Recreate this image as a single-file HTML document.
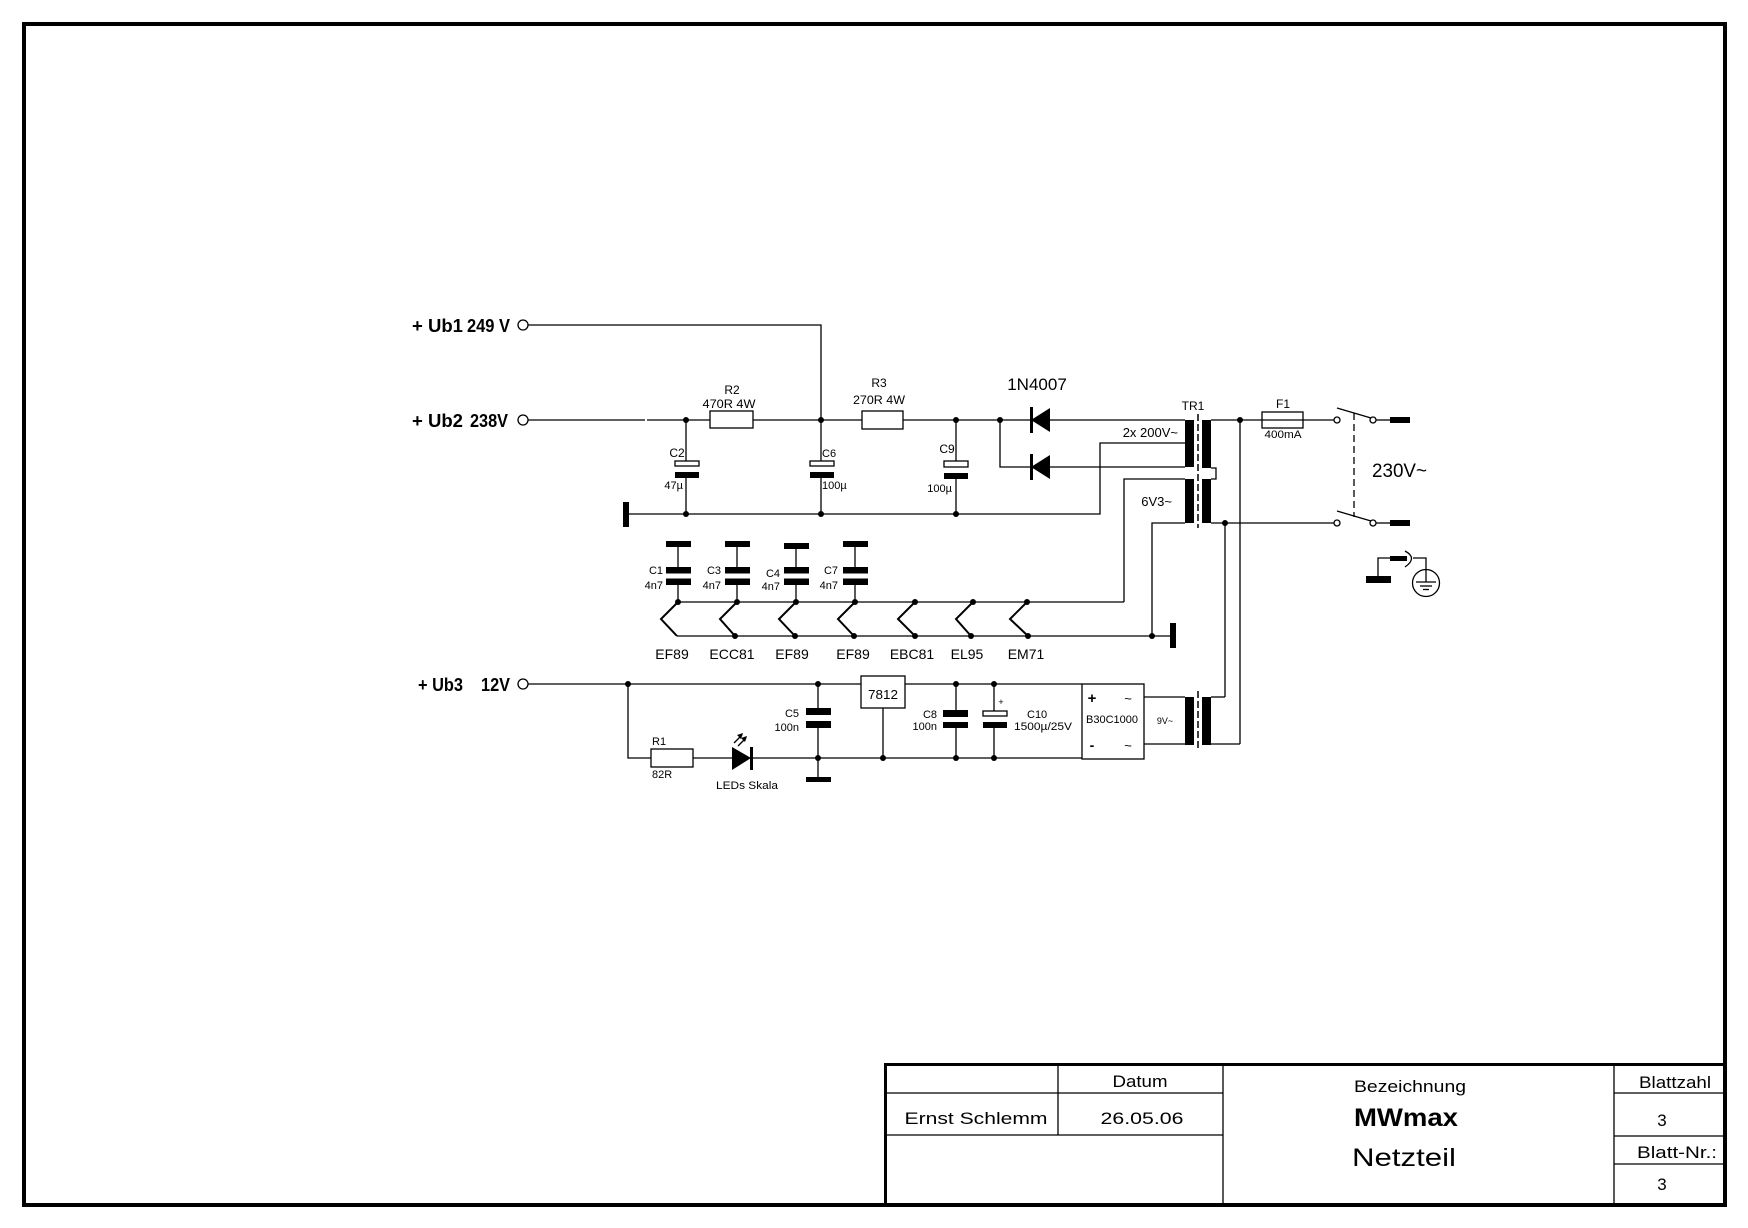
<!DOCTYPE html>
<html><head><meta charset="utf-8"><style>
html,body{margin:0;padding:0;background:#fff;}
svg{display:block;}
text{font-family:"Liberation Sans",Arial,sans-serif;fill:#000;}
</style></head><body>
<svg width="1748" height="1228" viewBox="0 0 1748 1228" xmlns="http://www.w3.org/2000/svg">
<rect x="0" y="0" width="1748" height="1228" fill="#fff"/>
<!-- outer border -->
<rect x="24" y="24" width="1701" height="1181" fill="none" stroke="#000" stroke-width="4"/>

<g stroke="#000" stroke-width="1.3" fill="none">
<!-- Ub1 -->
<circle cx="523" cy="325" r="5"/>
<polyline points="528,325 821,325 821,420"/>
<!-- Ub2 main -->
<circle cx="523" cy="420" r="5"/>
<line x1="528" y1="420" x2="645" y2="420"/>
<line x1="647" y1="420" x2="710" y2="420"/>
<rect x="710" y="411" width="43" height="17"/>
<line x1="753" y1="420" x2="862" y2="420"/>
<rect x="862" y="411" width="41" height="18"/>
<line x1="903" y1="420" x2="1031" y2="420"/>
<line x1="1050" y1="420" x2="1185" y2="420"/>
<!-- C2 C6 C9 -->
<line x1="686" y1="420" x2="686" y2="461"/>
<rect x="675" y="461" width="24" height="5"/>
<line x1="686" y1="478" x2="686" y2="514"/>
<line x1="821" y1="420" x2="821" y2="461"/>
<rect x="810" y="461" width="24" height="5"/>
<line x1="821" y1="478" x2="821" y2="514"/>
<line x1="956" y1="420" x2="956" y2="461"/>
<rect x="944" y="461" width="24" height="6"/>
<line x1="956" y1="479" x2="956" y2="514"/>
<!-- ground line & center tap -->
<polyline points="629,514 1100,514 1100,443 1185,443"/>
<!-- diode 2 -->
<polyline points="1000,420 1000,467 1031,467"/>
<line x1="1050" y1="467" x2="1185" y2="467"/>
<!-- 6V3 leads -->
<polyline points="1185,479 1124,479 1124,602"/>
<polyline points="1185,523 1152,523 1152,636"/>
<!-- right side -->
<line x1="1211" y1="420" x2="1262" y2="420"/>
<rect x="1262" y="412" width="41" height="16"/>
<line x1="1262" y1="420" x2="1334" y2="420"/>
<line x1="1240" y1="420" x2="1240" y2="744"/>
<line x1="1211" y1="744" x2="1240" y2="744"/>
<polyline points="1211,468 1216,468 1216,479 1211,479"/>
<line x1="1211" y1="523" x2="1334" y2="523"/>
<line x1="1225" y1="523" x2="1225" y2="697"/>
<line x1="1211" y1="697" x2="1225" y2="697"/>
<!-- switches -->
<circle cx="1337" cy="420" r="3"/>
<circle cx="1373" cy="420" r="3"/>
<circle cx="1337" cy="523" r="3"/>
<circle cx="1373" cy="523" r="3"/>
<line x1="1337" y1="408" x2="1371" y2="418"/>
<line x1="1337" y1="511" x2="1371" y2="521"/>
<line x1="1354" y1="413" x2="1354" y2="517" stroke-dasharray="7,4"/>
<line x1="1376" y1="420" x2="1390" y2="420"/>
<line x1="1376" y1="523" x2="1390" y2="523"/>
<!-- earth symbol -->
<polyline points="1378,576 1378,558 1390,558"/>
<path d="M1405,551 Q1418,558 1405,567"/>
<polyline points="1413,558 1426,558 1426,570"/>
<circle cx="1426" cy="583" r="13.5"/>
<line x1="1426" y1="570" x2="1426" y2="582"/>
<line x1="1416" y1="582" x2="1436" y2="582"/>
<line x1="1420" y1="586" x2="1432" y2="586"/>
<line x1="1423" y1="589.5" x2="1429" y2="589.5"/>

<!-- heater caps -->
<line x1="678" y1="547" x2="678" y2="567"/><line x1="678" y1="585" x2="678" y2="602"/>
<line x1="737" y1="547" x2="737" y2="567"/><line x1="737" y1="585" x2="737" y2="602"/>
<line x1="796" y1="549" x2="796" y2="567"/><line x1="796" y1="585" x2="796" y2="602"/>
<line x1="855" y1="547" x2="855" y2="567"/><line x1="855" y1="585" x2="855" y2="602"/>
<!-- heater lines -->
<line x1="678" y1="602" x2="1124" y2="602"/>
<line x1="677" y1="636" x2="1170" y2="636"/>

<!-- Ub3 -->
<circle cx="523" cy="684" r="5"/>
<line x1="528" y1="684" x2="861" y2="684"/>
<polyline points="628,684 628,758 651,758"/>
<rect x="651" y="749" width="42" height="18"/>
<line x1="693" y1="758" x2="732" y2="758"/>
<line x1="752" y1="758" x2="1082" y2="758"/>
<line x1="818" y1="684" x2="818" y2="708"/>
<line x1="818" y1="728" x2="818" y2="777"/>
<rect x="861" y="676" width="44" height="32"/>
<line x1="883" y1="708" x2="883" y2="758"/>
<line x1="905" y1="684" x2="1082" y2="684"/>
<line x1="956" y1="684" x2="956" y2="710"/><line x1="956" y1="728" x2="956" y2="758"/>
<line x1="994" y1="684" x2="994" y2="711"/><line x1="994" y1="728" x2="994" y2="758"/>
<rect x="983" y="711" width="24" height="5"/>
<rect x="1082" y="684" width="62" height="75"/>
<line x1="1144" y1="697" x2="1185" y2="697"/>
<line x1="1144" y1="744" x2="1185" y2="744"/>
<!-- LED arrows -->
<line x1="734" y1="743" x2="742" y2="735"/>
<line x1="738" y1="746" x2="746" y2="738"/>
</g>

<!-- transformer dashed cores -->
<g stroke="#000" stroke-width="1.5" fill="none" stroke-dasharray="7,3">
<line x1="1198" y1="414" x2="1198" y2="528"/>
<line x1="1198" y1="691" x2="1198" y2="751"/>
</g>

<!-- filled parts -->
<g fill="#000">
<!-- diodes -->
<polygon points="1031,420 1050,408 1050,432"/>
<rect x="1030" y="407" width="3" height="26"/>
<polygon points="1031,467 1050,455 1050,479"/>
<rect x="1030" y="454" width="3" height="26"/>
<!-- cap filled plates -->
<rect x="675" y="472" width="24" height="6"/>
<rect x="810" y="472" width="24" height="6"/>
<rect x="944" y="473" width="24" height="6"/>
<!-- ground bar -->
<rect x="623" y="502" width="6" height="25"/>
<!-- transformer bars -->
<rect x="1185" y="420" width="9" height="47"/>
<rect x="1185" y="479" width="9" height="44"/>
<rect x="1202" y="420" width="9" height="48"/>
<rect x="1202" y="479" width="9" height="44"/>
<rect x="1185" y="697" width="9" height="48"/>
<rect x="1202" y="697" width="9" height="48"/>
<!-- mains bars -->
<rect x="1390" y="417" width="20" height="6"/>
<rect x="1390" y="520" width="20" height="6"/>
<rect x="1366" y="576" width="25" height="7"/>
<rect x="1390" y="556" width="17" height="5"/>
<!-- heater caps -->
<rect x="666" y="541" width="25" height="6"/><rect x="666" y="567" width="25" height="6.5"/><rect x="666" y="578.5" width="25" height="6.5"/>
<rect x="725" y="541" width="25" height="6"/><rect x="725" y="567" width="25" height="6.5"/><rect x="725" y="578.5" width="25" height="6.5"/>
<rect x="784" y="543" width="25" height="6"/><rect x="784" y="567" width="25" height="6.5"/><rect x="784" y="578.5" width="25" height="6.5"/>
<rect x="843" y="541" width="25" height="6"/><rect x="843" y="567" width="25" height="6.5"/><rect x="843" y="578.5" width="25" height="6.5"/>
<rect x="1170" y="623" width="6" height="25"/>
<!-- LED -->
<polygon points="732,747 732,770 751,758"/>
<rect x="750" y="747" width="3" height="23"/>
<polygon points="743,733 737,735 741,739"/>
<polygon points="747,736 741,738 745,742"/>
<!-- C5 C8 C10 -->
<rect x="806" y="708" width="25" height="7"/><rect x="806" y="721" width="25" height="7"/>
<rect x="806" y="777" width="25" height="5"/>
<rect x="943" y="710" width="25" height="7"/><rect x="943" y="722" width="25" height="6"/>
<rect x="983" y="722" width="24" height="6"/>
<!-- dots -->
<circle cx="686" cy="420" r="3"/><circle cx="821" cy="420" r="3"/><circle cx="956" cy="420" r="3"/><circle cx="1000" cy="420" r="3"/>
<circle cx="686" cy="514" r="3"/><circle cx="821" cy="514" r="3"/><circle cx="956" cy="514" r="3"/>
<circle cx="1240" cy="420" r="3"/><circle cx="1225" cy="523" r="3"/>
<circle cx="678" cy="602" r="3"/><circle cx="737" cy="602" r="3"/><circle cx="796" cy="602" r="3"/><circle cx="855" cy="602" r="3"/>
<circle cx="915" cy="602" r="3"/><circle cx="973" cy="602" r="3"/><circle cx="1027" cy="602" r="3"/>
<circle cx="735" cy="636" r="3"/><circle cx="795" cy="636" r="3"/><circle cx="854" cy="636" r="3"/><circle cx="915" cy="636" r="3"/>
<circle cx="971" cy="636" r="3"/><circle cx="1028" cy="636" r="3"/><circle cx="1152" cy="636" r="3"/>
<circle cx="628" cy="684" r="3"/><circle cx="818" cy="684" r="3"/><circle cx="818" cy="758" r="3"/><circle cx="883" cy="758" r="3"/>
<circle cx="956" cy="684" r="3"/><circle cx="956" cy="758" r="3"/><circle cx="994" cy="684" r="3"/><circle cx="994" cy="758" r="3"/>
</g>

<!-- heater zigzags -->
<g stroke="#000" stroke-width="2" fill="none">
<polyline points="678,602 661,619 677,636"/>
<polyline points="737,602 720,619 735,636"/>
<polyline points="796,602 779,619 795,636"/>
<polyline points="855,602 838,619 854,636"/>
<polyline points="915,602 898,619 915,636"/>
<polyline points="973,602 956,619 971,636"/>
<polyline points="1027,602 1010,619 1028,636"/>
</g>

<!-- labels -->
<g font-weight="bold" font-size="18">
<text x="412" y="332" textLength="51" lengthAdjust="spacingAndGlyphs">+ Ub1</text>
<text x="467" y="332" textLength="43" lengthAdjust="spacingAndGlyphs">249 V</text>
<text x="412" y="427" textLength="51" lengthAdjust="spacingAndGlyphs">+ Ub2</text>
<text x="470" y="427" textLength="38" lengthAdjust="spacingAndGlyphs">238V</text>
<text x="418" y="691" textLength="45" lengthAdjust="spacingAndGlyphs">+ Ub3</text>
<text x="481" y="691" textLength="29" lengthAdjust="spacingAndGlyphs">12V</text>
</g>
<g font-size="12" text-anchor="middle">
<text x="732" y="394">R2</text>
<text x="729" y="408" textLength="53" lengthAdjust="spacingAndGlyphs">470R 4W</text>
<text x="879" y="387">R3</text>
<text x="879" y="404" textLength="52" lengthAdjust="spacingAndGlyphs">270R 4W</text>
<text x="677" y="457">C2</text>
<text x="947" y="453">C9</text>
<text x="1193" y="410">TR1</text>
<text x="1283" y="408">F1</text>
</g>
<g font-size="11">
<text x="683" y="489" text-anchor="end">47µ</text>
<text x="822" y="457">C6</text>
<text x="822" y="489">100µ</text>
<text x="952" y="492" text-anchor="end">100µ</text>
<text x="1283" y="438" text-anchor="middle" textLength="37" lengthAdjust="spacingAndGlyphs">400mA</text>
</g>
<text x="1037" y="390" font-size="17" text-anchor="middle">1N4007</text>
<text x="1178" y="437" font-size="13" text-anchor="end">2x 200V~</text>
<text x="1172" y="506" font-size="13" text-anchor="end">6V3~</text>
<text x="1372" y="477" font-size="19" textLength="55" lengthAdjust="spacingAndGlyphs">230V~</text>

<g font-size="11" text-anchor="end">
<text x="663" y="574">C1</text><text x="663" y="589">4n7</text>
<text x="721" y="574">C3</text><text x="721" y="589">4n7</text>
<text x="780" y="577">C4</text><text x="780" y="590">4n7</text>
<text x="838" y="574">C7</text><text x="838" y="589">4n7</text>
</g>
<g font-size="14" text-anchor="middle">
<text x="672" y="659">EF89</text>
<text x="732" y="659">ECC81</text>
<text x="792" y="659">EF89</text>
<text x="853" y="659">EF89</text>
<text x="912" y="659">EBC81</text>
<text x="967" y="659">EL95</text>
<text x="1026" y="659">EM71</text>
</g>

<g font-size="11">
<text x="652" y="745">R1</text>
<text x="652" y="778">82R</text>
<text x="716" y="789" textLength="62" lengthAdjust="spacingAndGlyphs">LEDs Skala</text>
<text x="799" y="717" text-anchor="end">C5</text>
<text x="799" y="731" text-anchor="end">100n</text>
<text x="937" y="718" text-anchor="end">C8</text>
<text x="937" y="730" text-anchor="end">100n</text>
<text x="1027" y="718">C10</text>
<text x="1014" y="730" textLength="58" lengthAdjust="spacingAndGlyphs">1500µ/25V</text>
<text x="1112" y="723" text-anchor="middle" textLength="52" lengthAdjust="spacingAndGlyphs">B30C1000</text>
</g>
<text x="883" y="699" font-size="13" text-anchor="middle" textLength="30" lengthAdjust="spacingAndGlyphs">7812</text>
<text x="1001" y="705" font-size="9" text-anchor="middle">+</text>
<text x="1092" y="703" font-size="15" font-weight="bold" text-anchor="middle">+</text>
<text x="1128" y="703" font-size="13" text-anchor="middle">~</text>
<text x="1092" y="750" font-size="14" font-weight="bold" text-anchor="middle">-</text>
<text x="1128" y="750" font-size="13" text-anchor="middle">~</text>
<text x="1165" y="724" font-size="9" text-anchor="middle">9V~</text>

<!-- title block -->
<g stroke="#000" fill="none">
<line x1="884" y1="1064.5" x2="1725" y2="1064.5" stroke-width="3"/>
<line x1="885.5" y1="1063" x2="885.5" y2="1205" stroke-width="3"/>
<g stroke-width="1.3">
<line x1="1058" y1="1065" x2="1058" y2="1135"/>
<line x1="1223" y1="1065" x2="1223" y2="1205"/>
<line x1="1614" y1="1065" x2="1614" y2="1205"/>
<line x1="886" y1="1093" x2="1223" y2="1093"/>
<line x1="886" y1="1135" x2="1223" y2="1135"/>
<line x1="1614" y1="1093" x2="1725" y2="1093"/>
<line x1="1614" y1="1136" x2="1725" y2="1136"/>
<line x1="1614" y1="1164" x2="1725" y2="1164"/>
</g>
</g>
<g font-size="17" text-anchor="middle">
<text x="1140" y="1087" textLength="55" lengthAdjust="spacingAndGlyphs">Datum</text>
<text x="976" y="1124" textLength="143" lengthAdjust="spacingAndGlyphs">Ernst Schlemm</text>
<text x="1142" y="1124" textLength="83" lengthAdjust="spacingAndGlyphs">26.05.06</text>
<text x="1410" y="1092" textLength="112" lengthAdjust="spacingAndGlyphs">Bezeichnung</text>
<text x="1675" y="1088" textLength="72" lengthAdjust="spacingAndGlyphs">Blattzahl</text>
<text x="1662" y="1126">3</text>
<text x="1677" y="1158" textLength="80" lengthAdjust="spacingAndGlyphs">Blatt-Nr.:</text>
<text x="1662" y="1190">3</text>
</g>
<text x="1406" y="1126" font-size="25" font-weight="bold" text-anchor="middle" textLength="104" lengthAdjust="spacingAndGlyphs">MWmax</text>
<text x="1404" y="1166" font-size="25" text-anchor="middle" textLength="104" lengthAdjust="spacingAndGlyphs">Netzteil</text>
</svg>
</body></html>
